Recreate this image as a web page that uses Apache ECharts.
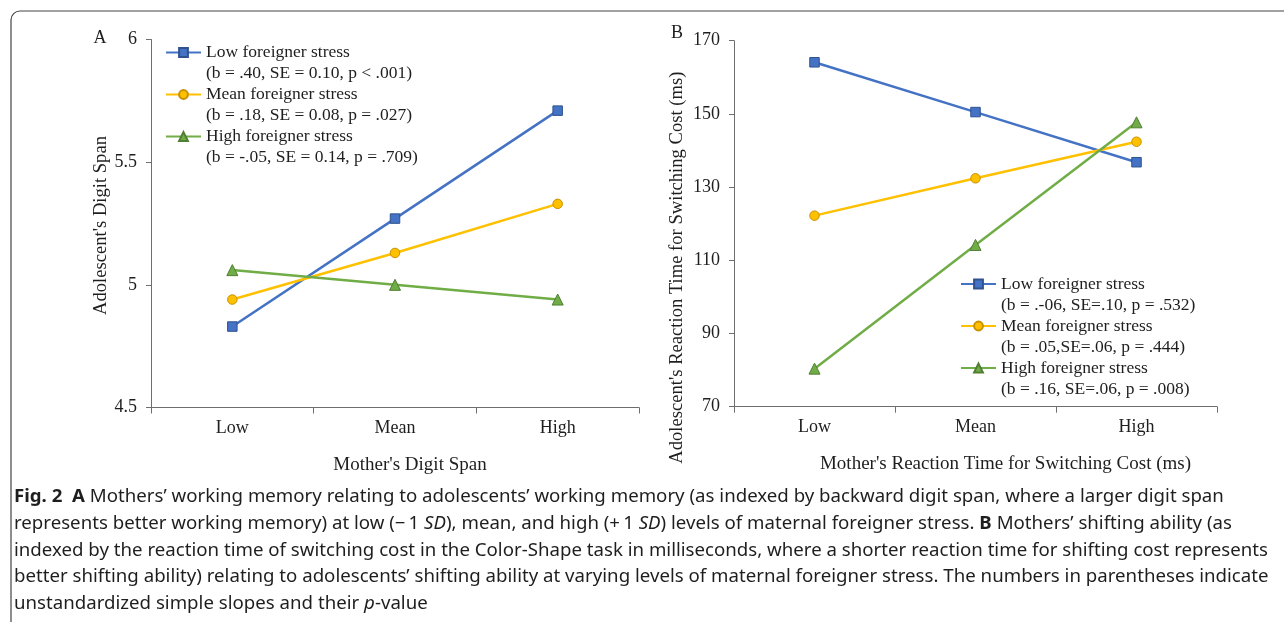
<!DOCTYPE html>
<html>
<head>
<meta charset="utf-8">
<title>Fig. 2</title>
<script src="https://cdn.jsdelivr.net/npm/echarts@6/dist/echarts.min.js"></script>
<style>
  html, body { margin: 0; padding: 0; background: #fff; }
  #main { width: 1284px; height: 622px; }
</style>
</head>
<body>
<div id="main"></div>
<script>
// x categories (mother's level) and the three moderator lines
var levels = ['Low', 'Mean', 'High'];
var seriesNames = ['Low foreigner stress', 'Mean foreigner stress', 'High foreigner stress'];

// panel A - adolescent's digit span
var spanLow = [4.83, 5.27, 5.71];
var spanMean = [4.94, 5.13, 5.33];
var spanHigh = [5.06, 5.00, 4.94];
var statsA = ['(b = .40, SE = 0.10, p < .001)', '(b = .18, SE = 0.08, p = .027)', '(b = -.05, SE = 0.14, p = .709)'];

// panel B - adolescent's reaction time for switching cost (ms)
var switchLow = [164.1, 150.5, 136.8];
var switchMean = [122.2, 132.4, 142.4];
var switchHigh = [80.4, 114.2, 147.7];
var statsB = ['(b = .-06, SE=.10, p = .532)', '(b = .05,SE=.06, p = .444)', '(b = .16, SE=.06, p = .008)'];

// y ticks
var spanTicks = { min: 4.5, max: 6, interval: 0.5 };
var switchTicks = { min: 70, max: 170, interval: 20 };

var captionLines = [
  '{b|Fig. 2}  {b|A} Mothers\u2019 working memory relating to adolescents\u2019 working memory (as indexed by backward digit span, where a larger digit span',
  'represents better working memory) at low (\u2212\u20091 {i|SD}), mean, and high (+\u20091 {i|SD}) levels of maternal foreigner stress. {b|B} Mothers\u2019 shifting ability (as',
  'indexed by the reaction time of switching cost in the Color-Shape task in milliseconds, where a shorter reaction time for shifting cost represents',
  'better shifting ability) relating to adolescents\u2019 shifting ability at varying levels of maternal foreigner stress. The numbers in parentheses indicate',
  'unstandardized simple slopes and their {i|p}-value'
];

var serif = 'Liberation Serif';
var sans = 'Noto Sans';
var colors = ['#4472C4', '#FFC000', '#70AD47'];
var borders = ['#2F528F', '#C79100', '#507E32'];
var symbols = ['rect', 'circle', 'triangle'];
var axisGray = '#6e6e6e';
var ink = '#1e1e1e';

var chart = echarts.init(document.getElementById('main'));

function makeSeries(sets, idx) {
  return sets.map(function (vals, i) {
    return {
      name: seriesNames[i],
      type: 'line',
      xAxisIndex: idx,
      yAxisIndex: idx,
      data: vals,
      symbol: symbols[i],
      symbolSize: i === 2 ? 11 : 9.5,
      lineStyle: { color: colors[i], width: 2.5 },
      itemStyle: { color: colors[i], borderColor: borders[i], borderWidth: 1 },
      emphasis: { disabled: true },
      animation: false
    };
  });
}

function xAxisFor(idx, name, shift) {
  return {
    type: 'category',
    gridIndex: idx,
    data: levels,
    boundaryGap: true,
    name: name,
    nameLocation: 'middle',
    nameGap: 48,
    nameTextStyle: { fontFamily: serif, fontSize: 19, color: ink, padding: [0, 0, 0, shift * 2] },
    axisLine: { lineStyle: { color: axisGray, width: 1 } },
    axisTick: { show: true, length: 6, lineStyle: { color: axisGray } },
    axisLabel: { fontFamily: serif, fontSize: 18, color: ink, margin: 12 }
  };
}

function yAxisFor(idx, name, ticks, gap, shift) {
  return {
    type: 'value',
    gridIndex: idx,
    min: ticks.min,
    max: ticks.max,
    interval: ticks.interval,
    name: name,
    nameLocation: 'middle',
    nameGap: gap,
    nameTextStyle: { fontFamily: serif, fontSize: 18.6, color: ink, padding: [0, shift * 2, 0, 0] },
    splitLine: { show: false },
    axisLine: { show: true, lineStyle: { color: axisGray, width: 1 } },
    axisTick: { show: true, length: 5, lineStyle: { color: axisGray } },
    axisLabel: { fontFamily: serif, fontSize: 18, color: ink, margin: 14 }
  };
}

function legendFor(stats, left, top) {
  return {
    data: seriesNames,
    orient: 'vertical',
    left: left,
    top: top,
    padding: 0,
    itemWidth: 35,
    itemHeight: 11,
    itemGap: -21,
    selectedMode: false,
    // empty first line keeps the icon level with the series name
    formatter: function (name) {
      return ' \n' + name + '\n' + stats[seriesNames.indexOf(name)];
    },
    textStyle: { fontFamily: serif, fontSize: 17.5, color: ink, lineHeight: 21 }
  };
}

// condense the caption font so the widest line fits like the original
var captionSize = 18;
var measureCtx = document.createElement('canvas').getContext('2d');
measureCtx.font = captionSize + 'px "' + sans + '"';
var squeeze = 1254 / measureCtx.measureText(captionLines[2]).width;

var captionRich = {
  b: { fontFamily: sans, fontSize: captionSize, fontWeight: 'bold', fill: ink },
  i: { fontFamily: sans, fontSize: captionSize, fontStyle: 'italic', fill: ink }
};
var captionY = [497, 524, 551, 577, 604];

var graphics = [
  {
    type: 'rect',
    shape: { x: 11, y: 11, width: 1300, height: 660, r: 9 },
    style: { fill: 'none', stroke: '#444', lineWidth: 1.2 },
    silent: true
  },
  { type: 'text', x: 100, y: 38, style: { text: 'A', fontFamily: serif, fontSize: 18, fill: ink, align: 'center', verticalAlign: 'middle' } },
  { type: 'text', x: 677, y: 33, style: { text: 'B', fontFamily: serif, fontSize: 18, fill: ink, align: 'center', verticalAlign: 'middle' } }
];
captionLines.forEach(function (line, i) {
  graphics.push({
    type: 'text',
    x: 14,
    y: captionY[i],
    scaleX: squeeze,
    style: {
      text: line,
      fontFamily: sans,
      fontSize: captionSize,
      fill: ink,
      verticalAlign: 'middle',
      rich: captionRich
    }
  });
});

var option = {
  animation: false,
  backgroundColor: '#fff',
  grid: [
    { left: 151, top: 39.5, width: 488, height: 368 },
    { left: 734, top: 40.7, width: 483, height: 366 }
  ],
  xAxis: [
    xAxisFor(0, 'Mother\'s Digit Span', 15),
    xAxisFor(1, 'Mother\'s Reaction Time for Switching Cost (ms)', 30)
  ],
  yAxis: [
    yAxisFor(0, 'Adolescent\'s Digit Span', spanTicks, 40, 2),
    yAxisFor(1, 'Adolescent\'s Reaction Time for Switching Cost (ms)', switchTicks, 47, 44)
  ],
  legend: [
    legendFor(statsA, 165, 21),
    legendFor(statsB, 960, 252.5)
  ],
  series: makeSeries([spanLow, spanMean, spanHigh], 0)
    .concat(makeSeries([switchLow, switchMean, switchHigh], 1)),
  graphic: graphics
};

chart.setOption(option);
</script>
</body>
</html>
